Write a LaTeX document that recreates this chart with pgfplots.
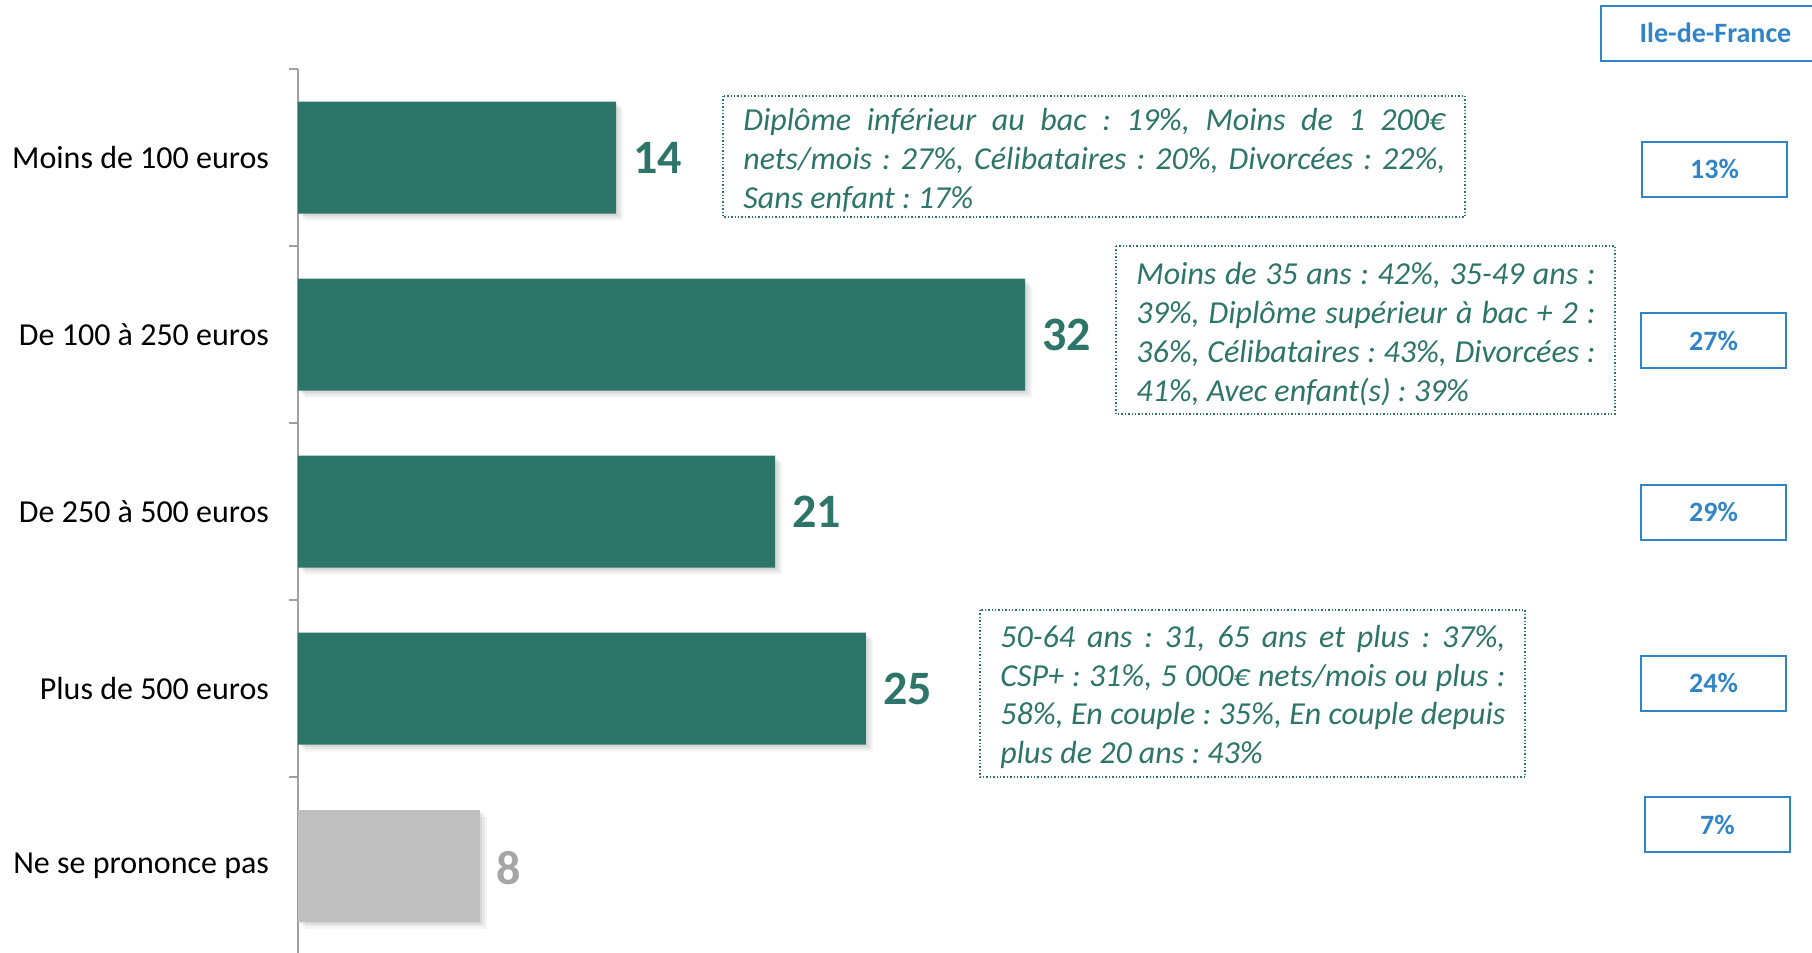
\documentclass[border=0pt]{standalone}
\usepackage{fontspec}
\setmainfont{Carlito}
\usepackage{pgfplots}
\pgfplotsset{compat=1.18}
\usetikzlibrary{shadows}
\definecolor{barteal}{HTML}{2E7569}
\definecolor{bargray}{HTML}{BFBFBF}
\definecolor{lblgray}{HTML}{A6A6A6}
\definecolor{idfblue}{HTML}{3185C6}
\definecolor{axisgray}{HTML}{A0A0A0}
\frenchspacing
\tikzset{softshadow/.style={
  drop shadow={shadow xshift=1.2pt, shadow yshift=-1.2pt, opacity=0.14},
  drop shadow={shadow xshift=2.4pt, shadow yshift=-2.4pt, opacity=0.12},
  drop shadow={shadow xshift=3.6pt, shadow yshift=-3.6pt, opacity=0.08}}}

\begin{document}
\begin{tikzpicture}
\useasboundingbox (0,0) rectangle (906pt,-476.5pt);
\begin{axis}[
  at={(149pt,-34.5pt)}, anchor=north west,
  scale only axis, width=681.6pt, height=442.5pt,
  xbar, bar shift=0pt, bar width=56pt,
  xmin=0, xmax=60,
  ymin=-0.5, ymax=4.5, y dir=reverse,
  axis x line=none, axis y line*=left,
  y axis line style={axisgray, line width=1pt},
  ytick={0,...,4},
  yticklabels={Moins de 100 euros, De 100 à 250 euros, De 250 à 500 euros, Plus de 500 euros, Ne se prononce pas},
  minor ytick={-0.5,0.5,...,4.5},
  major tick length=0pt, minor tick length=4.5pt, tick align=outside,
  minor tick style={axisgray, line width=1pt},
  yticklabel style={font=\fontsize{16}{19}\selectfont, text=black, xshift=-11pt},
  nodes near coords,
  every node near coord/.append style={font=\fontsize{24}{28}\selectfont\bfseries,
    anchor=west, xshift=5pt, /pgf/number format/assume math mode=true},
  clip=false,
]
% main answers
\addplot[fill=barteal, draw=none, softshadow,
  every node near coord/.append style={text=barteal}]
  coordinates {(14,0) (32,1) (21,2) (25,3)};
% no answer
\addplot[fill=bargray, draw=none, softshadow,
  every node near coord/.append style={text=lblgray, yshift=-1.5pt}]
  coordinates {(8,4)};
\end{axis}

\begin{scope}[x=0.5pt, y=-0.5pt,
  notebox/.style={draw=barteal, densely dotted, line width=0.7pt},
  note/.style={anchor=north west, inner sep=0pt, align=justify, text=barteal,
    font=\fontsize{16}{19.35}\selectfont\itshape},
  idf/.style={draw=idfblue, line width=1pt, text=idfblue, inner sep=0pt,
    font=\fontsize{14}{16}\selectfont\bfseries, minimum width=72.5pt, minimum height=27.5pt}]
\draw[notebox] (723,96) rectangle (1465,217);
\node[note, text width=351pt] at (743,104.5)
  {\rule{0pt}{13pt}Diplôme inférieur au bac : 19\%, Moins de 1~200€\linebreak
   nets/mois : 27\%, Célibataires : 20\%, Divorcées : 22\%,\linebreak
   Sans enfant : 17\%};
\draw[notebox] (1116,246) rectangle (1615,414);
\node[note, text width=229.5pt] at (1136,258.5)
  {\rule{0pt}{13pt}Moins de 35 ans : 42\%, 35-49 ans :\linebreak
   39\%, Diplôme supérieur à bac + 2 :\linebreak
   36\%, Célibataires : 43\%, Divorcées :\linebreak
   41\%, Avec enfant(s) : 39\%};
\draw[notebox] (980,610) rectangle (1525,777);
\node[note, text width=252.5pt] at (1000,621)
  {\rule{0pt}{13pt}50-64 ans : 31, 65 ans et plus : 37\%,\linebreak
   CSP+ : 31\%, 5~000€ nets/mois ou plus :\linebreak
   58\%, En couple : 35\%, En couple depuis\linebreak
   plus de 20 ans : 43\%};

\node[idf, minimum width=114.5pt] at (1715.5,33) {Ile-de-France};
\node[idf] at (1714.5,169) {13\%};
\node[idf] at (1713.5,340.5) {27\%};
\node[idf] at (1713.5,512) {29\%};
\node[idf] at (1713.5,683) {24\%};
\node[idf] at (1717.5,824.5) {7\%};
\end{scope}
\end{tikzpicture}
\end{document}
